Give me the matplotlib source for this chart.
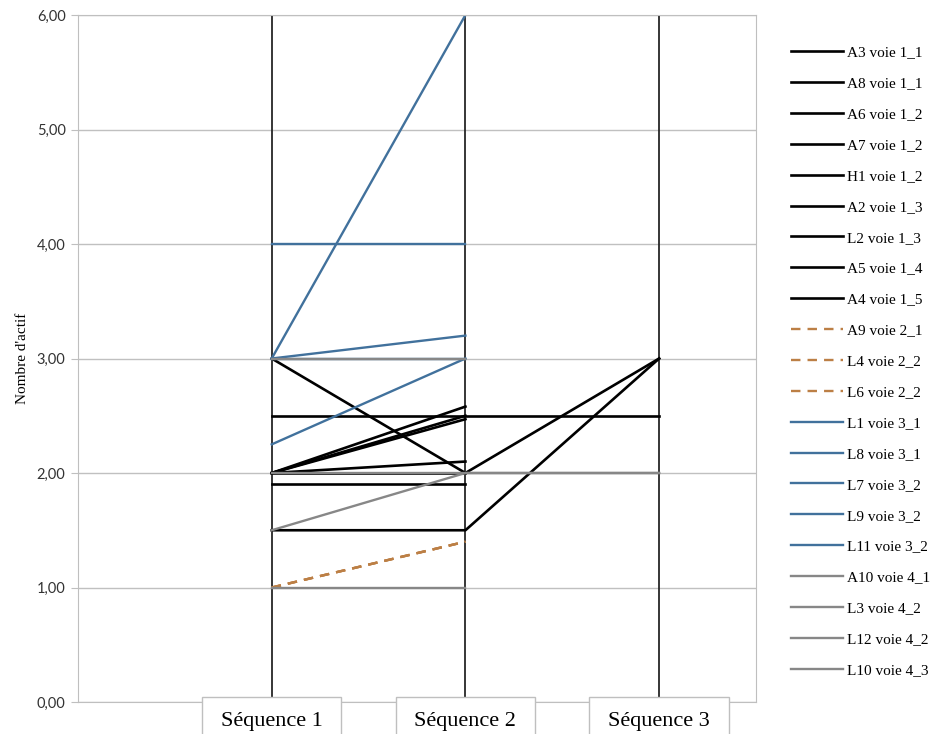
import numpy as np
import matplotlib
matplotlib.use('Agg')
from matplotlib import pyplot as plt
from matplotlib.patches import Rectangle
from matplotlib.transforms import blended_transform_factory

nan = np.nan

sequences = ['Séquence 1', 'Séquence 2', 'Séquence 3']

names = ['A3 voie 1_1', 'A8 voie 1_1', 'A6 voie 1_2', 'A7 voie 1_2', 'H1 voie 1_2',
         'A2 voie 1_3', 'L2 voie 1_3', 'A5 voie 1_4', 'A4 voie 1_5',
         'A9 voie 2_1', 'L4 voie 2_2', 'L6 voie 2_2',
         'L1 voie 3_1', 'L8 voie 3_1', 'L7 voie 3_2', 'L9 voie 3_2', 'L11 voie 3_2',
         'A10 voie 4_1', 'L3 voie 4_2', 'L12 voie 4_2', 'L10 voie 4_3']

# voie (group) of each series, used for colour / style
voies = [1, 1, 1, 1, 1, 1, 1, 1, 1,
         2, 2, 2,
         3, 3, 3, 3, 3,
         4, 4, 4, 4]

values = [
    [3.0, 2.0, 3.0],
    [2.5, 2.5, 2.5],
    [2.0, 2.58, nan],
    [2.0, 2.5, nan],
    [2.0, 2.47, nan],
    [2.0, 2.1, nan],
    [1.9, 1.9, nan],
    [1.5, 1.5, 3.0],
    [2.0, 2.0, nan],
    [1.0, 1.4, nan],
    [1.0, 1.4, nan],
    [1.0, 1.4, nan],
    [3.0, 6.0, nan],
    [4.0, 4.0, nan],
    [3.0, 3.2, nan],
    [2.25, 3.0, nan],
    [3.0, 3.0, nan],
    [3.0, 3.0, nan],
    [1.5, 2.0, 2.0],
    [2.0, 2.0, 2.0],
    [1.0, 1.0, nan],
]

styles = {
    1: dict(color='#000000', ls='-', lw=1.9),
    2: dict(color='#BC7F45', ls=(0, (4, 3)), lw=1.7),
    3: dict(color='#41719C', ls='-', lw=1.7),
    4: dict(color='#878787', ls='-', lw=1.7),
}

fig = plt.figure(figsize=(9.44, 7.34), dpi=100)
ax = fig.add_axes([78 / 944, 32 / 734, 678 / 944, 687 / 734])

x = np.arange(1, len(sequences) + 1)

# vertical category lines
for xi in x:
    ax.axvline(xi, color='#262626', lw=1.3, zorder=1)

handles = []
for name, v, vals in zip(names, voies, values):
    ln, = ax.plot(x, vals, label=name, zorder=2, **styles[v])
    handles.append(ln)

ax.set_xlim(0, 3.5)
ax.set_ylim(0, 6)
ax.set_yticks(np.arange(0, 7, 1))
ax.yaxis.set_major_formatter(plt.FuncFormatter(lambda t, p: ('%.2f' % t).replace('.', ',')))
ax.set_xticks([])
ax.grid(axis='y', color='#C0C0C0', lw=1)
ax.set_axisbelow(True)
for s in ax.spines.values():
    s.set_color('#BFBFBF')
ax.tick_params(axis='y', length=5, color='#BFBFBF', labelsize=10.5, pad=4)
for lab in ax.get_yticklabels():
    lab.set_fontfamily('Lato')
    lab.set_color('#333333')

ax.set_ylabel("Nombre d'actif", family='Liberation Serif', fontsize=11)
ax.yaxis.set_label_coords(-0.073, 0.5)

# category labels in boxes
tr = blended_transform_factory(ax.transData, ax.transAxes)
for xi, lab in zip(x, sequences):
    ax.add_patch(Rectangle((xi - 0.36, -0.1), 0.72, 0.107, transform=tr,
                           facecolor='white', edgecolor='#BFBFBF', lw=1,
                           clip_on=False, zorder=5))
    ax.text(xi, -0.028, lab, transform=tr, ha='center', va='center',
            family='Liberation Serif', fontsize=16, zorder=6)

fig.legend(handles=handles, loc='upper left', bbox_to_anchor=(777 / 944, 1 - 32 / 734),
           frameon=False, prop={'family': 'Liberation Serif', 'size': 11},
           handlelength=3.4, handletextpad=0.3, labelspacing=1.125)

fig.savefig('out.png', dpi=100)
